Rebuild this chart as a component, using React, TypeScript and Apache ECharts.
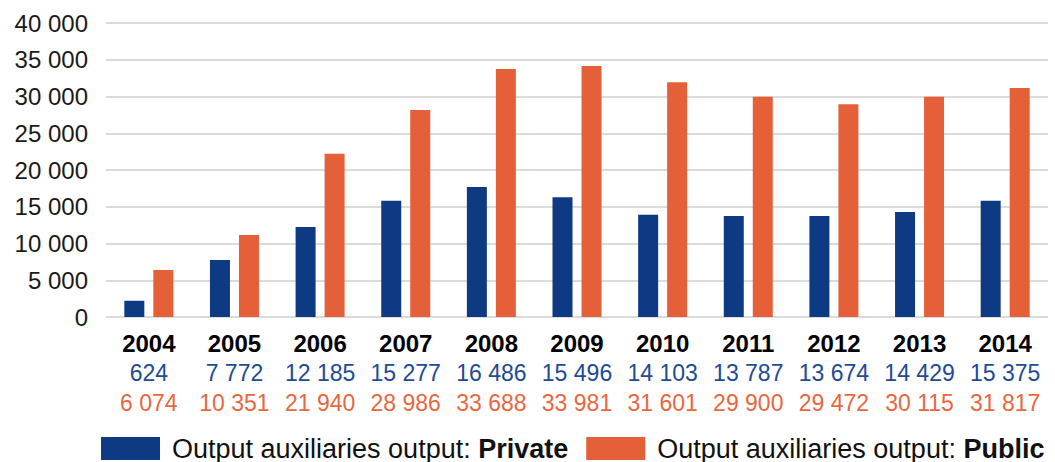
import React, { useEffect, useRef } from "react";
import * as echarts from "echarts";

const years = ["2004", "2005", "2006", "2007", "2008", "2009", "2010", "2011", "2012", "2013", "2014"];
// bar heights as drawn in the picture
const privateBars = [2200, 7750, 12250, 15800, 17700, 16300, 13900, 13750, 13750, 14300, 15800];
const publicBars = [6400, 11150, 22200, 28150, 33750, 34150, 31950, 29950, 28950, 29950, 31150];
// value labels printed under the axis
const privateLabels = ["624", "7 772", "12 185", "15 277", "16 486", "15 496", "14 103", "13 787", "13 674", "14 429", "15 375"];
const publicLabels = ["6 074", "10 351", "21 940", "28 986", "33 688", "33 981", "31 601", "29 900", "29 472", "30 115", "31 817"];
const seriesNames = ["Output auxiliaries output: Private", "Output auxiliaries output: Public"];

const BLUE = "#0E3A84";
const ORANGE = "#E55F39";
const FONT = "'Liberation Sans', Arial, sans-serif";

function fmt(v: number): string {
  return String(v).replace(/\B(?=(\d{3})+(?!\d))/g, " ");
}

export default function App() {
  const ref = useRef<HTMLDivElement>(null);
  useEffect(() => {
    document.body.style.margin = "0";
    const chart = echarts.init(ref.current!, null, { renderer: "svg" });
    chart.setOption({
      animation: false,
      backgroundColor: "#ffffff",
      textStyle: { fontFamily: FONT },
      grid: { left: 106, right: 7, top: 23, bottom: 145, containLabel: false },
      legend: {
        left: 101,
        top: 435,
        padding: 0,
        icon: "rect",
        itemWidth: 59,
        itemHeight: 23,
        itemGap: 18,
        data: seriesNames,
        textStyle: {
          fontFamily: FONT,
          fontSize: 27,
          color: "#111",
          padding: [0, 0, 0, 7],
          lineHeight: 24,
          rich: {
            r: { fontFamily: FONT, fontSize: 27, color: "#111", lineHeight: 24 },
            b: { fontFamily: FONT, fontSize: 27, color: "#111", fontWeight: "bold", lineHeight: 24 },
          },
        },
        formatter: (name: string) => {
          const i = name.lastIndexOf(": ");
          return "{r|" + name.slice(0, i + 2) + "}{b|" + name.slice(i + 2) + "}";
        },
      },
      xAxis: {
        type: "category",
        data: years,
        axisLine: { show: false },
        axisTick: { show: false },
        axisLabel: {
          margin: 11,
          interval: 0,
          formatter: (v: string, idx: number) =>
            "{y|" + v + "}\n{p|" + privateLabels[idx] + "}\n{q|" + publicLabels[idx] + "}",
          rich: {
            y: { fontFamily: FONT, fontSize: 24, fontWeight: "bold", color: "#000", lineHeight: 30 },
            p: { fontFamily: FONT, fontSize: 23, color: "#1E4A96", lineHeight: 30 },
            q: { fontFamily: FONT, fontSize: 23, color: "#E8673F", lineHeight: 30 },
          },
        },
      },
      yAxis: {
        type: "value",
        min: 0,
        max: 40000,
        interval: 5000,
        axisLine: { show: false },
        axisTick: { show: false },
        splitLine: { lineStyle: { color: "#CFCFCF", width: 1.5 } },
        axisLabel: {
          margin: 18,
          fontFamily: FONT,
          fontSize: 24,
          color: "#1a1a1a",
          formatter: (v: number) => fmt(v),
        },
      },
      series: [
        {
          name: seriesNames[0],
          type: "bar",
          data: privateBars,
          barWidth: 20,
          barGap: "45%",
          itemStyle: { color: BLUE },
        },
        {
          name: seriesNames[1],
          type: "bar",
          data: publicBars,
          barWidth: 20,
          barGap: "45%",
          itemStyle: { color: ORANGE },
        },
      ],
    });
    return () => chart.dispose();
  }, []);
  return <div ref={ref} style={{ width: 1055, height: 462 }} />;
}
